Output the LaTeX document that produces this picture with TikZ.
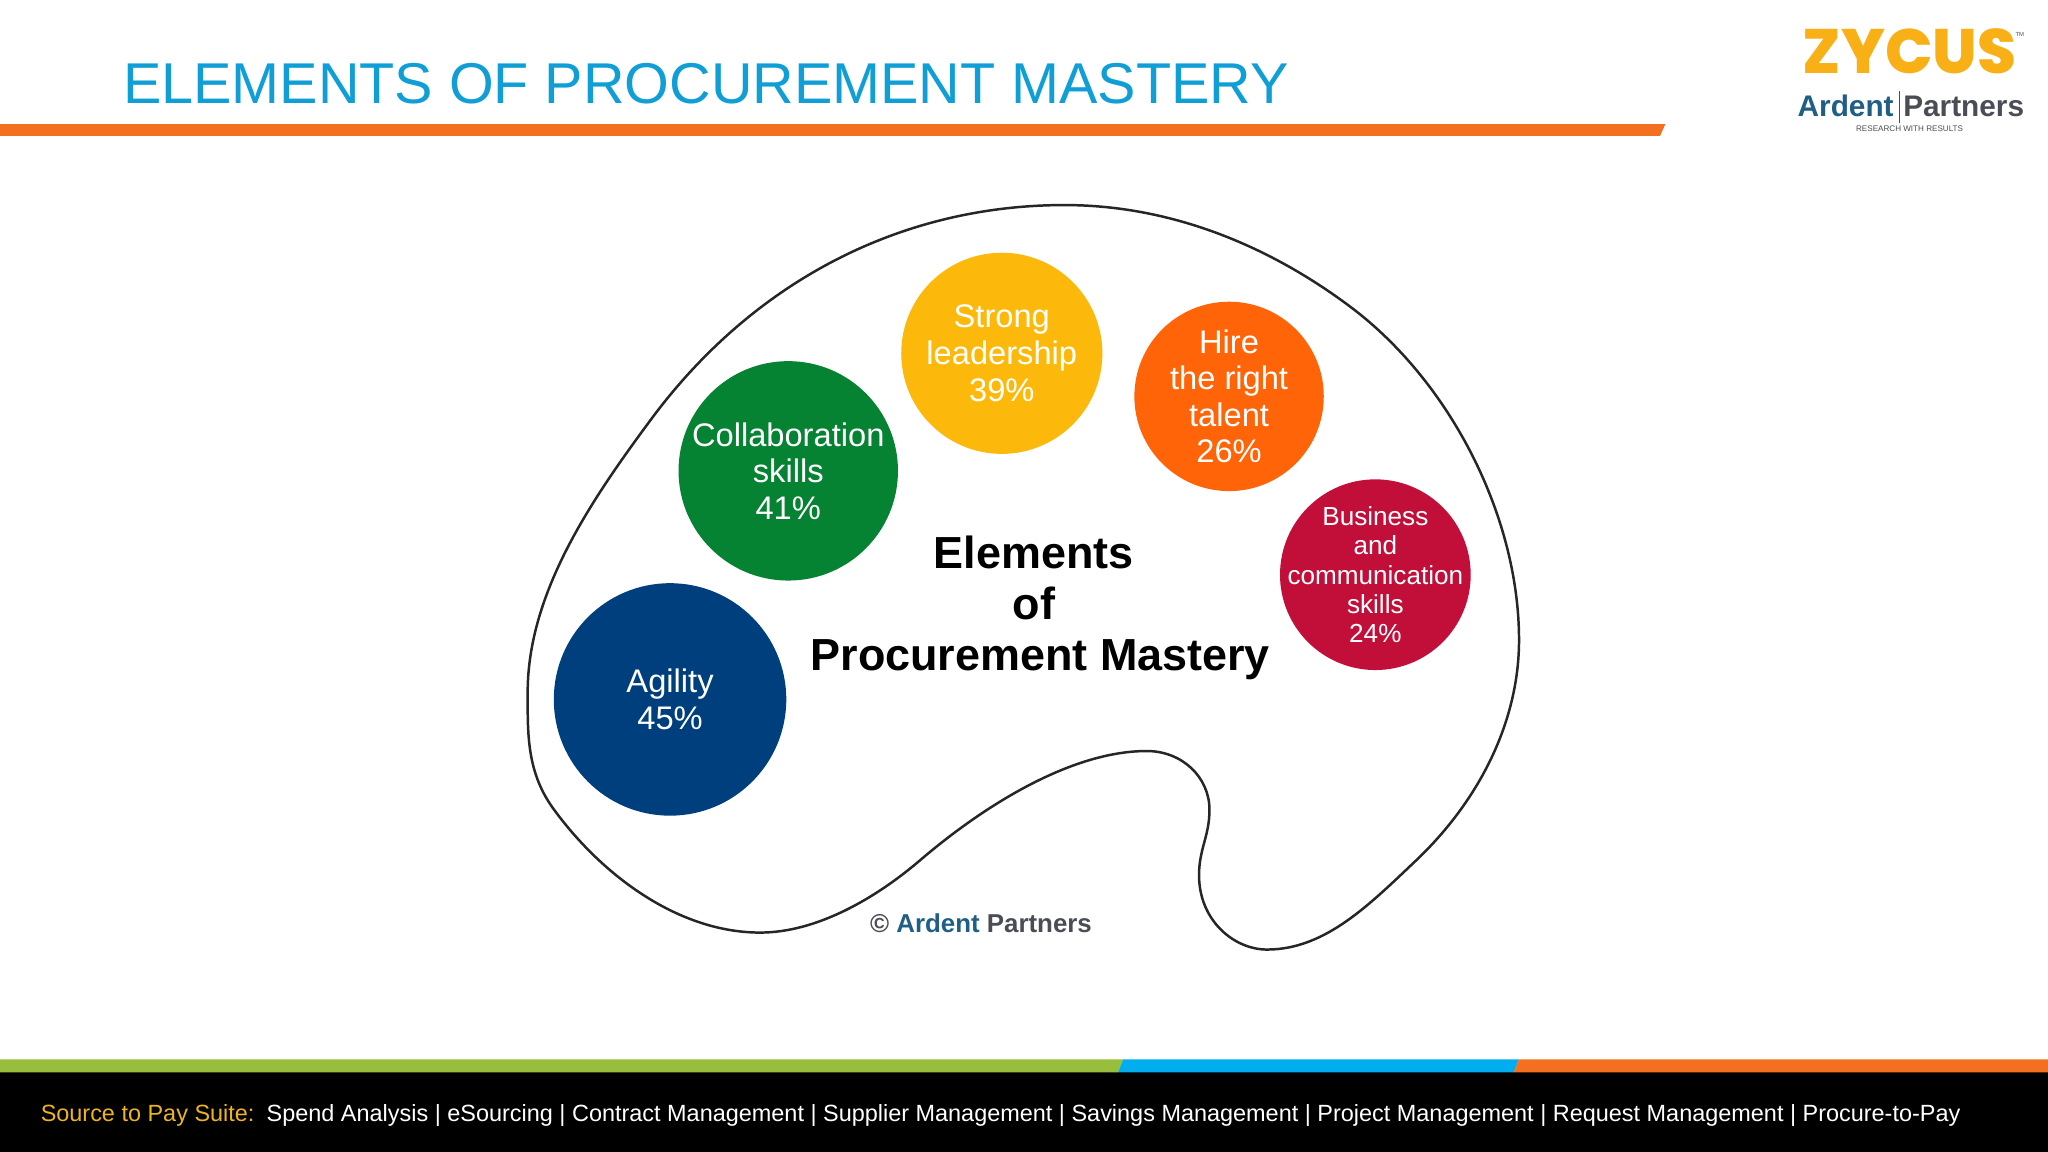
\documentclass[tikz,border=0pt]{standalone}
\usepackage{fontspec}
\setmainfont{Liberation Sans}
\newfontfamily\logofont{Poppins ExtraBold}
\definecolor{titleblue}{HTML}{0F9ED5}
\definecolor{barorange}{HTML}{F37021}
\definecolor{bargreen}{HTML}{97BF3D}
\definecolor{barblue}{HTML}{00AEEF}
\definecolor{suiteyellow}{HTML}{EDB41C}
\definecolor{cagility}{HTML}{003F7D}
\definecolor{ccollab}{HTML}{068233}
\definecolor{cstrong}{HTML}{FDB90B}
\definecolor{chire}{HTML}{FF6508}
\definecolor{cbiz}{HTML}{C20F3A}
\definecolor{ardentblue}{HTML}{1F5F85}
\definecolor{ardentgrey}{HTML}{4A4D55}
\definecolor{zyc}{HTML}{F9B016}
\tikzset{
  spot/.style={circle,text=white,align=center},
  spotbig/.style={spot,inner sep=0pt,font=\fontsize{25}{28}\selectfont},
  spotsmall/.style={spot,inner sep=-20pt,font=\fontsize{20}{22.3}\selectfont},
}
\begin{document}
\begin{tikzpicture}[x=1pt,y=-1pt]
\useasboundingbox (0,0) rectangle (1568,882);
\fill[white] (0,0) rectangle (1568,882);
% header
\node[anchor=base west,inner sep=0pt,text=titleblue,font=\fontsize{44.05}{48}\selectfont] (title) at (94,79) {ELEMENTS OF PROCUREMENT MASTERY};
\fill[barorange] (0,95) -- (1275,95) -- (1271,104) -- (0,104) -- cycle;
% logo
\node[anchor=base,inner sep=0pt,text=zyc,font=\logofont\fontsize{48}{50}\selectfont] (zycus) at (1462,56) {ZYCUS};
\node[anchor=base west,inner sep=0pt,text=ardentgrey,font=\fontsize{4.5}{5}\selectfont] (tm) at (1543,28) {TM};
\node[anchor=base east,inner sep=0pt,text=ardentblue,font=\bfseries\fontsize{22.8}{28}\selectfont] (ardent) at (1450,89) {Ardent};
\node[anchor=base west,inner sep=0pt,text=ardentgrey,font=\bfseries\fontsize{22.8}{28}\selectfont] (partners) at (1457,89) {Partners};
\draw[ardentgrey,line width=0.7pt] (1454,70) -- (1454,94);
\node[anchor=base,inner sep=0pt,text=ardentgrey,font=\fontsize{6.2}{7}\selectfont] (research) at (1462,101) {RESEARCH WITH RESULTS};
% palette
\draw[line width=1.9pt,draw=black!85,fill=white]
  (815,157) .. controls (895,157) and (970,187) .. (1034,235)
  .. controls (1110,292) and (1163,395) .. (1163,490)
  .. controls (1163,552) and (1133,612) .. (1085,658)
  .. controls (1049,692) and (1015,727) .. (970,727)
  .. controls (945,727) and (918,705) .. (918,670)
  .. controls (918,650) and (926,640) .. (926,620)
  .. controls (926,595) and (905,575) .. (878,575)
  .. controls (820,575) and (753,617) .. (704,659)
  .. controls (670,688) and (625,714) .. (582,714)
  .. controls (520,714) and (462,671) .. (425,621)
  .. controls (403,592) and (404,562) .. (404,530)
  .. controls (404,453) and (454,381) .. (500,319)
  .. controls (578,215) and (690,157) .. cycle;
\node[spotbig,fill=cagility,minimum size=178pt] (agility) at (513,535.5) {Agility\\45\%};
\node[spotbig,fill=ccollab,minimum size=168pt] (collab) at (603.5,360.5) {Collaboration\\skills\\41\%};
\node[spotbig,fill=cstrong,minimum size=154pt] (strong) at (767,270.5) {Strong\\leadership\\39\%};
\node[spotbig,fill=chire,minimum size=145pt] (hire) at (941,303.5) {Hire\\the right\\talent\\26\%};
\node[spotsmall,fill=cbiz,minimum size=146pt] (biz) at (1053,440) {Business\\and\\communication\\skills\\24\%};
\node[align=center,inner sep=0pt,font=\bfseries\fontsize{34.4}{39}\selectfont] (heading) at (796.5,465.5) {Elements\hbox to 10pt{}\\of\hbox to 10pt{}\\Procurement Mastery};
\node[anchor=base west,inner sep=0pt,font=\bfseries\fontsize{19.8}{22}\selectfont,text=ardentgrey] (copyright) at (666,714) {©\hspace{5.5pt}\textcolor{ardentblue}{Ardent} Partners};
% footer
\fill[black] (0,821) rectangle (1568,882);
\fill[bargreen] (0,811) -- (860,811) -- (856,821) -- (0,821) -- cycle;
\fill[barblue] (860,811) -- (1163,811) -- (1159,821) -- (856,821) -- cycle;
\fill[barorange] (1163,811) -- (1568,811) -- (1568,821) -- (1159,821) -- cycle;
\node[anchor=base west,inner sep=0pt,text=suiteyellow,font=\fontsize{17.95}{20}\selectfont] (suite) at (31,858.5) {Source to Pay Suite:};
\node[anchor=base west,inner sep=0pt,text=white,font=\fontsize{17.95}{20}\selectfont] (modules) at (204,858.5) {Spend Analysis | eSourcing | Contract Management | Supplier Management | Savings Management | Project Management | Request Management | Procure-to-Pay};
\end{tikzpicture}
\end{document}
